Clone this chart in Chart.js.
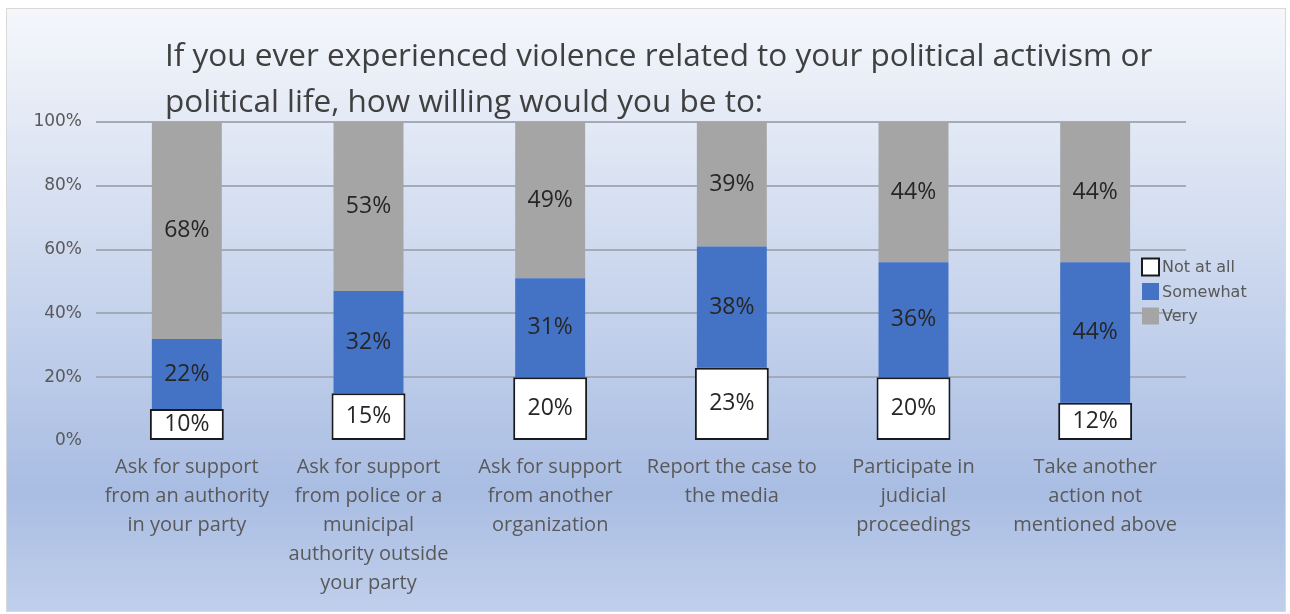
<!DOCTYPE html>
<html>
<head>
<meta charset="utf-8">
<script src="https://cdn.jsdelivr.net/npm/chart.js@4.4.1/dist/chart.umd.min.js"></script>
<style>
  body { margin: 0; background: #ffffff; }
  canvas { display: block; }
</style>
</head>
<body>
<canvas id="willingChart" width="1290" height="614"></canvas>
<script>
const categories = [
  ["Ask for support", "from an authority", "in your party"],
  ["Ask for support", "from police or a", "municipal", "authority outside", "your party"],
  ["Ask for support", "from another", "organization"],
  ["Report the case to", "the media"],
  ["Participate in", "judicial", "proceedings"],
  ["Take another", "action not", "mentioned above"]
];
const notAtAll = [10, 15, 20, 23, 20, 12];
const somewhat = [22, 32, 31, 38, 36, 44];
const very = [68, 53, 49, 39, 44, 44];
const seriesNames = ["Not at all", "Somewhat", "Very"];
const titleLines = [
  "If you ever experienced violence related to your political activism or",
  "political life, how willing would you be to:"
];

var backgroundPlugin = {
  id: 'backgroundPlugin',
  beforeDraw: function (chart) {
    var ctx = chart.ctx;
    ctx.save();
    ctx.fillStyle = '#ffffff';
    ctx.fillRect(0, 0, chart.width, chart.height);
    var grad = ctx.createLinearGradient(0, 8, 0, 612);
    grad.addColorStop(0, '#f5f7fb');
    grad.addColorStop(0.8, '#a9bde3');
    grad.addColorStop(1, '#c0cfeb');
    ctx.fillStyle = grad;
    ctx.fillRect(6, 8, 1280, 604);
    ctx.strokeStyle = '#d9d9d9';
    ctx.lineWidth = 1;
    ctx.strokeRect(6.5, 8.5, 1279, 603);
    ctx.restore();
  }
};

var titlePlugin = {
  id: 'titlePlugin',
  afterDraw: function (chart) {
    var ctx = chart.ctx;
    ctx.save();
    ctx.font = '31.5px "Open Sans"';
    ctx.fillStyle = '#404040';
    ctx.textAlign = 'left';
    ctx.textBaseline = 'alphabetic';
    titleLines.forEach(function (line, i) {
      ctx.fillText(line, 165, 66 + i * 46);
    });
    ctx.restore();
  }
};

var valueLabels = {
  id: 'valueLabels',
  afterDatasetsDraw: function (chart) {
    var ctx = chart.ctx;
    ctx.save();
    ctx.font = '23px "Open Sans"';
    ctx.fillStyle = '#262626';
    ctx.textAlign = 'center';
    ctx.textBaseline = 'middle';
    chart.data.datasets.forEach(function (ds, di) {
      chart.getDatasetMeta(di).data.forEach(function (bar, i) {
        var mid = (bar.y + bar.base) / 2;
        ctx.fillText(ds.data[i] + '%', bar.x, mid);
      });
    });
    ctx.restore();
  }
};

var sideLegend = {
  id: 'sideLegend',
  afterDatasetsDraw: function (chart) {
    var ctx = chart.ctx;
    ctx.save();
    ctx.font = '16px "DejaVu Sans"';
    ctx.textAlign = 'left';
    ctx.textBaseline = 'middle';
    chart.data.datasets.forEach(function (ds, i) {
      var cy = 267 + i * 24.5;
      ctx.fillStyle = ds.backgroundColor;
      ctx.fillRect(1142, cy - 8.5, 17, 17);
      if (ds.borderWidth) {
        ctx.strokeStyle = '#1a1a1a';
        ctx.lineWidth = 2;
        ctx.strokeRect(1142, cy - 8.5, 17, 17);
      }
      ctx.fillStyle = '#595959';
      ctx.fillText(ds.label, 1162, cy + 1);
    });
    ctx.restore();
  }
};

const chart = new Chart(document.getElementById('willingChart'), {
  type: 'bar',
  data: {
    labels: categories,
    datasets: [
      {
        label: seriesNames[0],
        data: notAtAll,
        backgroundColor: '#ffffff',
        borderColor: '#1a1a1a',
        borderWidth: 2,
        borderSkipped: false,
        barPercentage: 0.407,
        categoryPercentage: 1
      },
      {
        label: seriesNames[1],
        data: somewhat,
        backgroundColor: '#4472c4',
        borderWidth: 0,
        barPercentage: 0.385,
        categoryPercentage: 1
      },
      {
        label: seriesNames[2],
        data: very,
        backgroundColor: '#a5a5a5',
        borderWidth: 0,
        barPercentage: 0.385,
        categoryPercentage: 1
      }
    ]
  },
  options: {
    responsive: false,
    devicePixelRatio: 1,
    animation: false,
    layout: {
      padding: { top: 122, left: 10, right: 104, bottom: 0 }
    },
    plugins: {
      legend: { display: false },
      title: { display: false },
      tooltip: { enabled: false }
    },
    scales: {
      x: {
        stacked: true,
        border: { display: false },
        grid: { display: false, drawTicks: false },
        ticks: {
          color: '#595959',
          font: { family: 'Open Sans', size: 20, lineHeight: 1.45 },
          padding: 12,
          maxRotation: 0,
          autoSkip: false
        },
        afterFit: function (scale) { scale.height = 173; }
      },
      y: {
        stacked: true,
        min: 0,
        max: 100,
        border: { display: false },
        grid: {
          drawTicks: false,
          lineWidth: 2,
          color: function (c) { return c.tick && c.tick.value === 0 ? 'rgba(0,0,0,0)' : '#a3abbb'; }
        },
        ticks: {
          stepSize: 20,
          color: '#595959',
          font: { family: 'DejaVu Sans', size: 17 },
          padding: 14,
          callback: function (v) { return v + '%'; }
        },
        afterFit: function (scale) { scale.width = 86; }
      }
    }
  },
  plugins: [backgroundPlugin, titlePlugin, valueLabels, sideLegend]
});
</script>
</body>
</html>
